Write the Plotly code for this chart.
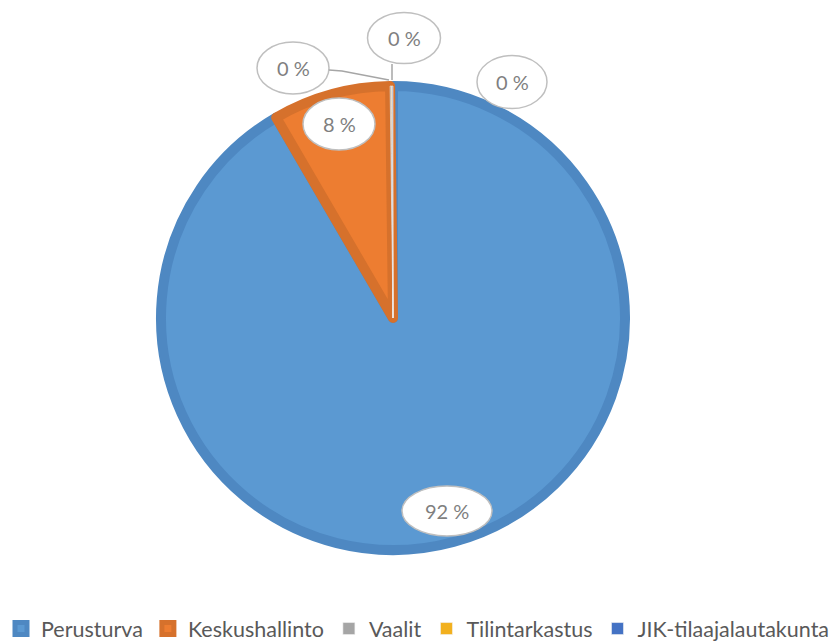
import plotly.graph_objects as go

# ---- data ----
categories = ["Perusturva", "Keskushallinto", "Vaalit", "Tilintarkastus", "JIK-tilaajalautakunta"]
shares = [91.6, 8.2, 0.1, 0.05, 0.05]

# ---- style ----
fill_colors = ["#5B99D2", "#ED7D31", "#A5A5A5", "#F2B01E", "#4472C4"]
line_colors = ["#4E88C2", "#D6712C", "#F2F2F2", "#F2F2F2", "#F2F2F2"]
line_widths = [10, 10, 0.6, 0.6, 0.6]

W, H = 836, 642
FONT = "Lato"


def px(x):
    return x / W


def py(y):
    return 1 - y / H


# pie geometry (pixels)
cx, cy, r = 393, 318, 232

# label callout ellipses: (center x, center y, width, height) in pixels
label_boxes = [
    (447, 511, 90, 50),
    (339, 124, 72, 52),
    (293, 68, 72, 52),
    (404, 38, 73, 51),
    (512, 82, 70, 53),
]
leader_lines = [
    [(329, 70), (342, 71), (389, 80)],
    [(392, 64), (392, 80)],
]

total = sum(shares)
label_texts = [f"{round(v / total * 100)} %" for v in shares]

fig = go.Figure(go.Pie(
    labels=categories,
    values=shares,
    sort=False,
    direction="clockwise",
    rotation=0,
    textinfo="none",
    hoverinfo="label+percent",
    marker=dict(colors=fill_colors, line=dict(color=line_colors, width=line_widths)),
    domain=dict(x=[px(cx - r), px(cx + r)], y=[py(cy + r), py(cy - r)]),
))

shapes = []
annotations = []
for (x, y, w, h), t in zip(label_boxes, label_texts):
    shapes.append(dict(type="circle", xref="paper", yref="paper",
                       x0=px(x - w / 2), x1=px(x + w / 2), y0=py(y + h / 2), y1=py(y - h / 2),
                       fillcolor="white", line=dict(color="#BFBFBF", width=1.5), layer="above"))
    annotations.append(dict(x=px(x), y=py(y), xref="paper", yref="paper", text=t,
                            xanchor="center", yanchor="middle",
                            showarrow=False, font=dict(family=FONT, size=20, color="#7F7F7F")))
for pts in leader_lines:
    path = "M " + " L ".join(f"{px(a)},{py(b)}" for a, b in pts)
    shapes.append(dict(type="path", xref="paper", yref="paper", path=path,
                       line=dict(color="#A6A6A6", width=1.5), layer="above"))

fig.update_layout(
    width=W, height=H,
    margin=dict(l=0, r=0, t=0, b=0, autoexpand=False),
    paper_bgcolor="white",
    plot_bgcolor="white",
    shapes=shapes,
    annotations=annotations,
    showlegend=True,
    legend=dict(orientation="h", x=0.5, xanchor="center", y=-0.011, yanchor="bottom",
                font=dict(family=FONT, size=21.5, color="#595959"),
                itemwidth=30, tracegroupgap=0, traceorder="normal"),
)

fig.write_html("out.html", config={"displayModeBar": False},
               post_script="document.body.style.margin='0';document.body.style.overflow='hidden';")
